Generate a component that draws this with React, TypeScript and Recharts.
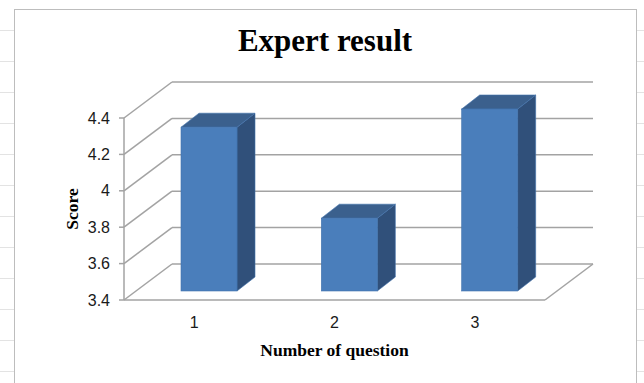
import { BarChart, Bar, XAxis, YAxis, CartesianGrid } from "recharts"

const questions = ["1", "2", "3"]
const scores = [4.3, 3.8, 4.4]
const scoreTicks = [3.4, 3.6, 3.8, 4, 4.2, 4.4]

const data = questions.map((question, i) => ({ question, score: scores[i] }))

// fake 3D: walls are pushed back by WALL, bars sit a bit behind the front plane
const WALL_DX = 48
const WALL_DY = -36
const BAR_DX = 15
const BAR_DY = -9
const DEPTH_DX = 18
const DEPTH_DY = -14

const GRID = "#a3a3a3"

function WallLine(props: any) {
  const { x1, y1, x2, y, height, index } = props
  const isFloor = Math.abs(y1 - (y + height)) < 1
  return (
    <g key={`wall-${index}`} stroke={GRID} strokeWidth={1.5} fill="none">
      <line x1={x1} y1={y1} x2={x1 + WALL_DX} y2={y1 + WALL_DY} />
      <line x1={x1 + WALL_DX} y1={y1 + WALL_DY} x2={x2 + WALL_DX} y2={y1 + WALL_DY} />
      {isFloor && (
        <>
          <line x1={x1} y1={y1} x2={x2} y2={y1} />
          <line x1={x2} y1={y1} x2={x2 + WALL_DX} y2={y1 + WALL_DY} />
        </>
      )}
    </g>
  )
}

function Column3D(props: any) {
  const { x, y, width, height } = props
  const fx = x + BAR_DX
  const fy = y + BAR_DY
  const top = `${fx},${fy} ${fx + DEPTH_DX},${fy + DEPTH_DY} ${fx + width + DEPTH_DX},${fy + DEPTH_DY} ${fx + width},${fy}`
  const side = `${fx + width},${fy} ${fx + width + DEPTH_DX},${fy + DEPTH_DY} ${fx + width + DEPTH_DX},${fy + height + DEPTH_DY} ${fx + width},${fy + height}`
  return (
    <g stroke="#4172ad" strokeWidth={0.6}>
      <polygon points={side} fill="#30507a" />
      <polygon points={top} fill="#3b608d" />
      <rect x={fx} y={fy} width={width} height={height} fill="#4a7ebb" />
    </g>
  )
}

export default function App() {
  return (
    <div
      style={{
        position: "absolute",
        left: 0,
        top: 0,
        width: 644,
        height: 383,
        overflow: "hidden",
        background: "repeating-linear-gradient(to bottom, #fff 0px, #fff 30px, #e3e3e3 30px, #e3e3e3 31px)",
      }}
    >
      <div
        style={{
          position: "absolute",
          left: 14,
          top: 9,
          width: 623,
          height: 390,
          background: "#fff",
          border: "1px solid #bdbdbd",
          boxSizing: "border-box",
        }}
      />
      <div
        style={{
          position: "absolute",
          left: 0,
          top: 23,
          width: 650,
          textAlign: "center",
          fontFamily: "'Liberation Serif', serif",
          fontWeight: "bold",
          fontSize: 31,
          color: "#000",
        }}
      >
        Expert result
      </div>
      <div style={{ position: "absolute", left: 0, top: 0 }}>
        <BarChart
          width={644}
          height={383}
          data={data}
          margin={{ top: 118, right: 99, bottom: 23, left: 64 }}
          barSize={56}
        >
          <CartesianGrid vertical={false} horizontal={(p: any) => <WallLine {...p} />} />
          <XAxis
            dataKey="question"
            height={60}
            axisLine={false}
            tickLine={false}
            tickSize={0}
            tickMargin={17}
            tick={{ fill: "#1a1a1a", fontSize: 16, fontFamily: "'Liberation Sans', sans-serif" }}
            label={{
              value: "Number of question",
              position: "insideBottom",
              offset: 4,
              style: { fill: "#000", fontSize: 17.5, fontWeight: "bold", fontFamily: "'Liberation Serif', serif" },
            }}
          />
          <YAxis
            width={60}
            domain={[3.4, 4.4]}
            ticks={scoreTicks}
            interval={0}
            axisLine={{ stroke: GRID, strokeWidth: 1.5 }}
            tickLine={{ stroke: GRID, strokeWidth: 1.5 }}
            tickSize={5}
            tickMargin={9}
            tick={{ fill: "#1a1a1a", fontSize: 16, fontFamily: "'Liberation Sans', sans-serif" }}
            label={{
              value: "Score",
              angle: -90,
              position: "insideLeft",
              offset: 8,
              style: { textAnchor: "middle", fill: "#000", fontSize: 17.5, fontWeight: "bold", fontFamily: "'Liberation Serif', serif" },
            }}
          />
          <Bar dataKey="score" shape={<Column3D />} isAnimationActive={false} />
        </BarChart>
      </div>
    </div>
  )
}
